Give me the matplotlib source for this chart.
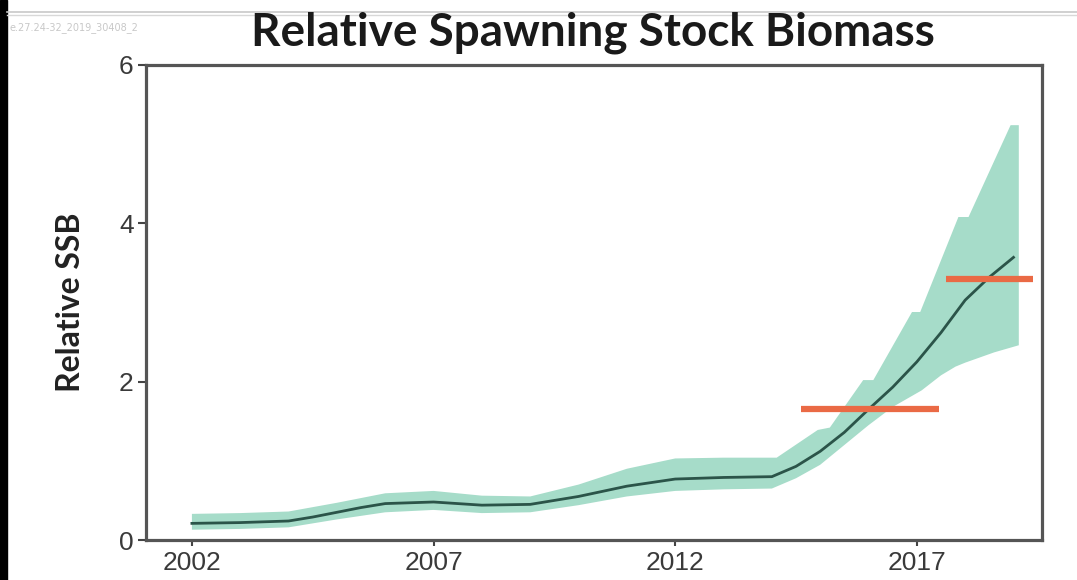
import matplotlib
matplotlib.use("Agg")
import matplotlib.pyplot as plt
from matplotlib.patches import Rectangle
from matplotlib.lines import Line2D

# ---- data ----
years = [2002.0, 2003.0, 2004.0, 2004.5, 2005.0, 2005.5, 2006.0, 2007.0, 2008.0,
         2009.0, 2010.0, 2011.0, 2012.0, 2013.0, 2014.0, 2014.5, 2015.0, 2015.5,
         2016.0, 2016.5, 2017.0, 2017.5, 2018.0, 2018.5, 2019.0]
ssb = [0.21, 0.22, 0.24, 0.29, 0.35, 0.41, 0.46, 0.48, 0.44,
       0.45, 0.55, 0.68, 0.77, 0.79, 0.80, 0.93, 1.12, 1.36,
       1.65, 1.93, 2.25, 2.62, 3.03, 3.32, 3.57]

upper_years = [2002.0, 2003.0, 2004.0, 2005.0, 2006.0, 2007.0, 2008.0, 2009.0,
               2010.0, 2011.0, 2012.0, 2013.0, 2014.1, 2014.95, 2015.2, 2015.89,
               2016.1, 2016.9, 2017.07, 2017.86, 2018.07, 2018.94, 2019.11]
upper = [0.33, 0.34, 0.36, 0.47, 0.59, 0.62, 0.56, 0.55,
         0.70, 0.90, 1.03, 1.04, 1.04, 1.39, 1.42, 2.02,
         2.02, 2.88, 2.88, 4.08, 4.08, 5.24, 5.24]

lower_years = [2002.0, 2003.0, 2004.0, 2005.0, 2006.0, 2007.0, 2008.0, 2009.0,
               2010.0, 2011.0, 2012.0, 2013.0, 2014.0, 2014.5, 2015.0, 2015.5,
               2016.0, 2016.5, 2017.1, 2017.5, 2017.8, 2018.0, 2018.6, 2019.11]
lower = [0.13, 0.14, 0.16, 0.26, 0.35, 0.38, 0.34, 0.35,
         0.44, 0.55, 0.62, 0.64, 0.65, 0.78, 0.95, 1.20,
         1.45, 1.68, 1.89, 2.08, 2.19, 2.24, 2.37, 2.46]

ref_starts = [2014.6, 2017.6]
ref_ends = [2017.46, 2019.4]
ref_values = [1.65, 3.30]

xticks = [2002, 2007, 2012, 2017]
yticks = [0, 2, 4, 6]

# ---- figure ----
fig = plt.figure(figsize=(10.77, 5.8), dpi=100)
ax = fig.add_axes([146/1077, 1 - 540/580, (1042-146)/1077, (540-65)/580])

poly_x = list(upper_years) + list(reversed(lower_years))
poly_y = list(upper) + list(reversed(lower))
ax.fill(poly_x, poly_y, color="#a6dcc9", lw=0, zorder=1)
ax.plot(years, ssb, color="#2b5449", lw=2.0, zorder=3)

for s, e, v in zip(ref_starts, ref_ends, ref_values):
    ax.plot([s, e], [v, v], color="#ea6a45", lw=4.5, solid_capstyle="butt", zorder=4)

ax.set_xlim(2001.05, 2019.59)
ax.set_ylim(0, 6)
ax.set_xticks(xticks)
ax.set_yticks(yticks)
ax.set_xticklabels([str(t) for t in xticks], fontsize=19, color="#3a3a3a",
                   family="Liberation Sans")
ax.set_yticklabels([str(t) for t in yticks], fontsize=19, color="#3a3a3a",
                   family="Liberation Sans")
ax.tick_params(axis="x", length=4, width=1.5, color="#444444", pad=4)
ax.tick_params(axis="y", length=6, width=1.5, color="#444444", pad=3)
for sp in ax.spines.values():
    sp.set_color("#555555")
    sp.set_linewidth(2.3)

ax.set_ylabel("Relative SSB", fontsize=23, fontweight="bold", family="Lato",
              color="#222222", labelpad=24)

fig.text(593/1077, 1 - 33/580, "Relative Spawning Stock Biomass", ha="center",
         va="center", fontsize=33, fontweight="bold", family="Lato", color="#1a1a1a")

# faint header text and separator line
fig.text(10/1077, 1 - 28/580, "e.27.24-32_2019_30408_2", fontsize=7,
         color="#c8c8c8", va="center", ha="left")
fig.add_artist(Line2D([7/1077, 1], [1 - 12/580, 1 - 12/580], color="#c8c8c8", lw=1.2,
                      transform=fig.transFigure))
fig.add_artist(Line2D([7/1077, 1], [1 - 15/580, 1 - 15/580], color="#d8d8d8", lw=1.0,
                      transform=fig.transFigure))
fig.add_artist(Rectangle((0, 0), 7/1077, 1, color="black", transform=fig.transFigure))

fig.savefig("out.png", dpi=100)
